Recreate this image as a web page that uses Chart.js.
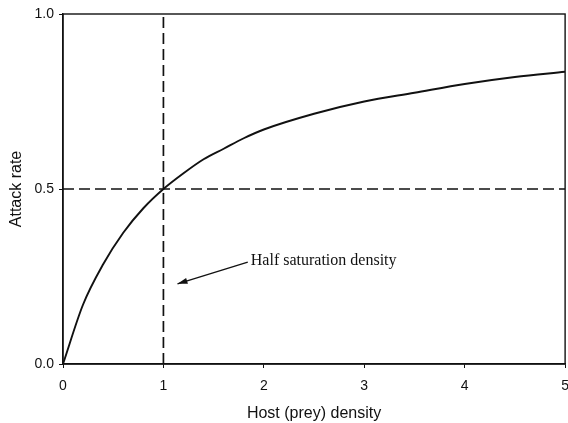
<!DOCTYPE html>
<html>
<head>
<meta charset="utf-8">
<script src="https://cdn.jsdelivr.net/npm/chart.js@4/dist/chart.umd.min.js"></script>
<style>
    html, body { margin: 0; padding: 0; background: #fff; overflow: hidden; }
    #wrap { width: 579px; height: 423px; }
</style>
</head>
<body>
<div id="wrap"><canvas id="attackChart"></canvas></div>
<script>
// Courbe du taux d'attaque en fonction de la densité d'hôtes
const hostDensity = [0, 0.2, 0.4, 0.6, 0.8, 1, 1.2, 1.4, 1.6, 1.8, 2, 2.5, 3, 3.5, 4, 4.5, 5];
const attackRate = [0, 0.17, 0.285, 0.375, 0.445, 0.5, 0.545, 0.585, 0.615, 0.645, 0.67, 0.715, 0.75, 0.775, 0.8, 0.82, 0.835];

// Lignes de repère de la densité de demi-saturation
const halfSatX = [1, 1];
const halfSatY = [0, 1];
const halfRateX = [0, 5];
const halfRateY = [0.5, 0.5];

const xTicks = [0, 1, 2, 3, 4, 5];
const yTicks = [0, 0.5, 1];

const annotationText = "Half saturation density";

const ink = "#111";
const sans = "'Liberation Sans', Arial, sans-serif";

const toPoints = (xs, ys) => xs.map((x, i) => ({ x: x, y: ys[i] }));

// Cadre autour de la zone de tracé + flèche et texte
const framePlugin = {
    id: "frame",
    afterDatasetsDraw(chart) {
        const { ctx, chartArea: a, scales } = chart;
        ctx.save();
        ctx.strokeStyle = ink;
        ctx.lineWidth = 1.4;
        ctx.strokeRect(a.left, a.top, a.right - a.left, a.bottom - a.top);

        // flèche vers la ligne x = 1
        const x0 = scales.x.getPixelForValue(1.84), y0 = scales.y.getPixelForValue(0.291);
        const x1 = scales.x.getPixelForValue(1.14), y1 = scales.y.getPixelForValue(0.229);
        ctx.lineWidth = 1.3;
        ctx.beginPath();
        ctx.moveTo(x0, y0);
        ctx.lineTo(x1, y1);
        ctx.stroke();
        const ang = Math.atan2(y1 - y0, x1 - x0);
        ctx.fillStyle = ink;
        ctx.beginPath();
        ctx.moveTo(x1, y1);
        ctx.lineTo(x1 - 10 * Math.cos(ang) + 3 * Math.sin(ang), y1 - 10 * Math.sin(ang) - 3 * Math.cos(ang));
        ctx.lineTo(x1 - 10 * Math.cos(ang) - 3 * Math.sin(ang), y1 - 10 * Math.sin(ang) + 3 * Math.cos(ang));
        ctx.closePath();
        ctx.fill();

        ctx.font = "16px 'Liberation Serif', 'Times New Roman', serif";
        ctx.textBaseline = "middle";
        ctx.textAlign = "left";
        ctx.fillText(annotationText, scales.x.getPixelForValue(1.87), scales.y.getPixelForValue(0.294));
        ctx.restore();
    }
};

const ctx = document.getElementById("attackChart").getContext("2d");
new Chart(ctx, {
    type: "scatter",
    data: {
        datasets: [
            {
                data: toPoints(hostDensity, attackRate),
                showLine: true,
                borderColor: ink,
                borderWidth: 1.9,
                pointRadius: 0,
                cubicInterpolationMode: "monotone"
            },
            {
                data: toPoints(halfSatX, halfSatY),
                showLine: true,
                borderColor: ink,
                borderWidth: 1.7,
                borderDash: [11, 5],
                pointRadius: 0
            },
            {
                data: toPoints(halfRateX, halfRateY),
                showLine: true,
                borderColor: ink,
                borderWidth: 1.7,
                borderDash: [11, 5],
                pointRadius: 0
            }
        ]
    },
    options: {
        responsive: true,
        maintainAspectRatio: false,
        animation: false,
        layout: { padding: { top: 14, left: 0, right: 0, bottom: 0 } },
        plugins: {
            legend: { display: false },
            tooltip: { enabled: false }
        },
        scales: {
            x: {
                type: "linear",
                min: 0,
                max: 5,
                afterBuildTicks: (scale) => { scale.ticks = xTicks.map(v => ({ value: v })); },
                afterFit: (scale) => { scale.height = 59; },
                ticks: {
                    color: ink,
                    font: { family: sans, size: 14 },
                    padding: 10,
                    maxRotation: 0
                },
                grid: { drawOnChartArea: false, drawTicks: true, tickLength: 4, color: ink },
                border: { display: true, color: ink, width: 1.4 },
                title: {
                    display: true,
                    text: "Host (prey) density",
                    color: ink,
                    font: { family: sans, size: 16 },
                    padding: { top: 0, bottom: 0 }
                }
            },
            y: {
                type: "linear",
                min: 0,
                max: 1,
                afterBuildTicks: (scale) => { scale.ticks = yTicks.map(v => ({ value: v })); },
                afterFit: (scale) => { scale.width = 63; },
                ticks: {
                    color: ink,
                    font: { family: sans, size: 14 },
                    padding: 5,
                    callback: (v) => Number(v).toFixed(1)
                },
                grid: { drawOnChartArea: false, drawTicks: true, tickLength: 4, color: ink },
                border: { display: true, color: ink, width: 1.4 },
                title: {
                    display: true,
                    text: "Attack rate",
                    color: ink,
                    font: { family: sans, size: 16 },
                    padding: { top: 7, bottom: 0 }
                }
            }
        }
    },
    plugins: [framePlugin]
});
</script>
</body>
</html>
